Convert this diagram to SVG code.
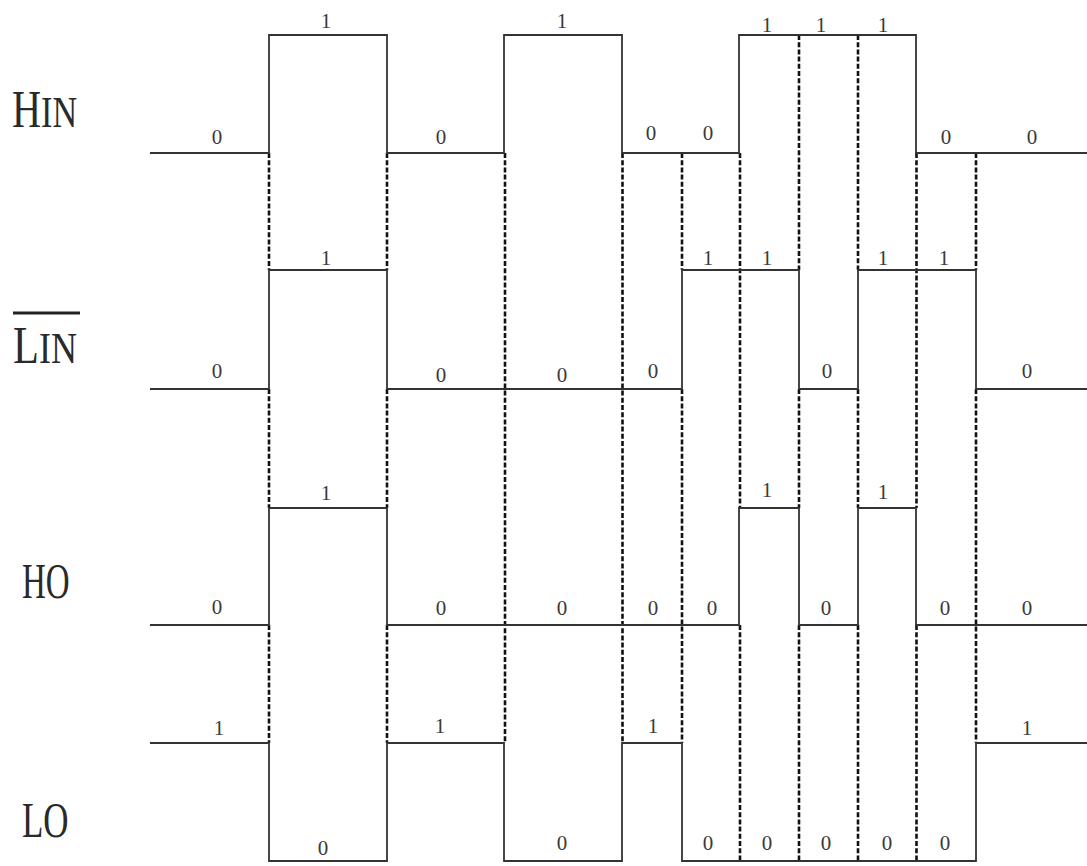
<svg xmlns="http://www.w3.org/2000/svg" width="1087" height="866" viewBox="0 0 1087 866">
<style>
.wave{fill:none;stroke:#333;stroke-width:1.8;stroke-linejoin:miter}
.dash{fill:none;stroke:#111;stroke-width:2.6;stroke-dasharray:5 2.2}
.v{font-family:"Liberation Serif","Times New Roman",serif;font-size:21px;fill:#3a3a3a;text-anchor:middle}
.lbl{font-family:"Liberation Serif","Times New Roman",serif;fill:#2a2a2a}
</style>
<rect width="1087" height="866" fill="#fff"/>
<g id="labels">
<text class="lbl" transform="translate(12,127) scale(0.76,1)"><tspan font-size="53">H</tspan><tspan font-size="45">IN</tspan></text>
<g id="lin-label">
<line x1="13" y1="313" x2="80" y2="313" stroke="#222" stroke-width="3"/>
<text class="lbl" transform="translate(13,363) scale(0.8,1)"><tspan font-size="53">L</tspan><tspan font-size="45">IN</tspan></text>
</g>
<text class="lbl" font-size="50" transform="translate(22,598) scale(0.66,1)">HO</text>
<text class="lbl" font-size="50" transform="translate(22,837) scale(0.7,1)">LO</text>
</g>
<g id="connectors">
<path class="dash" d="M269,153V270M269,389V508M269,625V743"/>
<path class="dash" d="M387,153V270M387,389V508M387,625V743"/>
<path class="dash" d="M505,153V743"/>
<path class="dash" d="M622.5,153V743"/>
<path class="dash" d="M682,153V270M682,389V743"/>
<path class="dash" d="M740,153V508M740,625V861"/>
<path class="dash" d="M799,35V270M799,389V508M799,625V861"/>
<path class="dash" d="M858,35V270M858,389V508M858,625V861"/>
<path class="dash" d="M916.5,153V508M916.5,625V861"/>
<path class="dash" d="M976,153V270M976,389V743"/>
</g>
<g id="HIN">
<path class="wave" d="M150,153H269V35H387V153H504V35H622V153H739V35H916V153H1087"/>
<text class="v" x="326" y="28">1</text>
<text class="v" x="562" y="28">1</text>
<text class="v" x="767" y="32">1</text>
<text class="v" x="821" y="32">1</text>
<text class="v" x="883" y="32">1</text>
<text class="v" x="217" y="144">0</text>
<text class="v" x="441" y="144">0</text>
<text class="v" x="651" y="140">0</text>
<text class="v" x="708" y="140">0</text>
<text class="v" x="946" y="144">0</text>
<text class="v" x="1032" y="144">0</text>
</g>
<g id="LIN">
<path class="wave" d="M150,389H269V270H387V389H682V270H799V389H858V270H976V389H1087"/>
<text class="v" x="326" y="265">1</text>
<text class="v" x="708" y="265">1</text>
<text class="v" x="767" y="265">1</text>
<text class="v" x="883" y="265">1</text>
<text class="v" x="944" y="265">1</text>
<text class="v" x="217" y="378">0</text>
<text class="v" x="441" y="382">0</text>
<text class="v" x="562" y="382">0</text>
<text class="v" x="653" y="378">0</text>
<text class="v" x="827" y="378">0</text>
<text class="v" x="1027" y="378">0</text>
</g>
<g id="HO">
<path class="wave" d="M150,625H269V508H387V625H739V508H799V625H858V508H916V625H1087"/>
<text class="v" x="326" y="500">1</text>
<text class="v" x="767" y="497">1</text>
<text class="v" x="883" y="499">1</text>
<text class="v" x="217" y="614">0</text>
<text class="v" x="441" y="615">0</text>
<text class="v" x="562" y="615">0</text>
<text class="v" x="653" y="615">0</text>
<text class="v" x="712" y="615">0</text>
<text class="v" x="826" y="615">0</text>
<text class="v" x="945" y="615">0</text>
<text class="v" x="1027" y="615">0</text>
</g>
<g id="LO">
<path class="wave" d="M150,743H269V861H387V743H504V861H622V743H682V861H976V743H1087"/>
<text class="v" x="219" y="735">1</text>
<text class="v" x="440" y="733">1</text>
<text class="v" x="653" y="733">1</text>
<text class="v" x="1027" y="735">1</text>
<text class="v" x="323" y="855">0</text>
<text class="v" x="562" y="850">0</text>
<text class="v" x="708" y="850">0</text>
<text class="v" x="767" y="850">0</text>
<text class="v" x="826" y="850">0</text>
<text class="v" x="887" y="850">0</text>
<text class="v" x="945" y="850">0</text>
</g>
</svg>
